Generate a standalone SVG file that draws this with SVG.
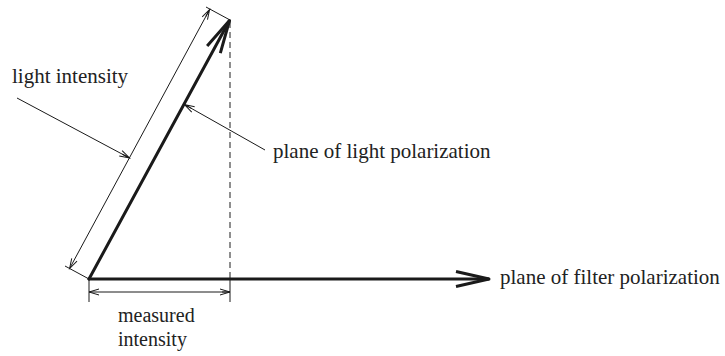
<svg xmlns="http://www.w3.org/2000/svg" width="725" height="356" viewBox="0 0 725 356">
<style>
.thick{stroke:#1a1a1a;stroke-width:3;fill:none;stroke-linecap:round}
.thin{stroke:#1a1a1a;stroke-width:1;fill:none}
.dash{stroke:#444;stroke-width:1.2;fill:none;stroke-dasharray:6,4}
text{font-family:"Liberation Serif","Times New Roman",serif;font-size:21px;fill:#222}
.small{font-size:20px}
</style>
<defs>
<marker id="bigV" markerUnits="userSpaceOnUse" markerWidth="40" markerHeight="20" viewBox="-36 -10 40 20" refX="0" refY="0" orient="auto" overflow="visible">
<path d="M-33,-7.5 L0,0 L-33,7.5" fill="none" stroke="#1a1a1a" stroke-width="3" stroke-linejoin="miter"/>
</marker>
<marker id="smallV" markerUnits="userSpaceOnUse" markerWidth="14" markerHeight="10" viewBox="-12 -5 14 10" refX="0" refY="0" orient="auto" overflow="visible">
<path d="M-10,-3 L0,0 L-10,3 M-8,0 L0,0" fill="none" stroke="#1a1a1a" stroke-width="1"/>
</marker>
<marker id="smallVs" markerUnits="userSpaceOnUse" markerWidth="14" markerHeight="10" viewBox="-2 -5 14 10" refX="0" refY="0" orient="auto" overflow="visible">
<path d="M10,-3 L0,0 L10,3" fill="none" stroke="#1a1a1a" stroke-width="1"/>
</marker>
</defs>
<g id="connectors">
<line class="dash" x1="230" y1="22" x2="230" y2="279"/>
<line class="thick" x1="89" y1="279" x2="229.5" y2="20.5" marker-end="url(#bigV)"/>
<line class="thick" x1="89" y1="279" x2="489" y2="279" marker-end="url(#bigV)"/>
<line class="thin" x1="89" y1="279" x2="89" y2="302"/>
<line class="thin" x1="230" y1="279" x2="230" y2="302"/>
<line class="thin" x1="89" y1="292" x2="230" y2="292" marker-start="url(#smallVs)" marker-end="url(#smallV)"/>
<line class="thin" x1="89" y1="279" x2="65" y2="266"/>
<line class="thin" x1="230" y1="20" x2="206" y2="7"/>
<line class="thin" x1="69.6" y1="268.5" x2="209.6" y2="9.5" marker-start="url(#smallVs)" marker-end="url(#smallV)"/>
<line class="thin" x1="17" y1="98" x2="129.5" y2="158" marker-end="url(#smallV)"/>
<line class="thin" x1="265" y1="150" x2="184.5" y2="104.5" marker-end="url(#smallV)"/>
</g>
<g id="label-light-intensity"><text x="12" y="83">light intensity</text></g>
<g id="label-plane-light"><text x="273" y="158">plane of light polarization</text></g>
<g id="label-plane-filter"><text x="500" y="284">plane of filter polarization</text></g>
<g id="label-measured"><text class="small" x="118" y="322">measured</text><text class="small" x="118" y="346">intensity</text></g>
</svg>
